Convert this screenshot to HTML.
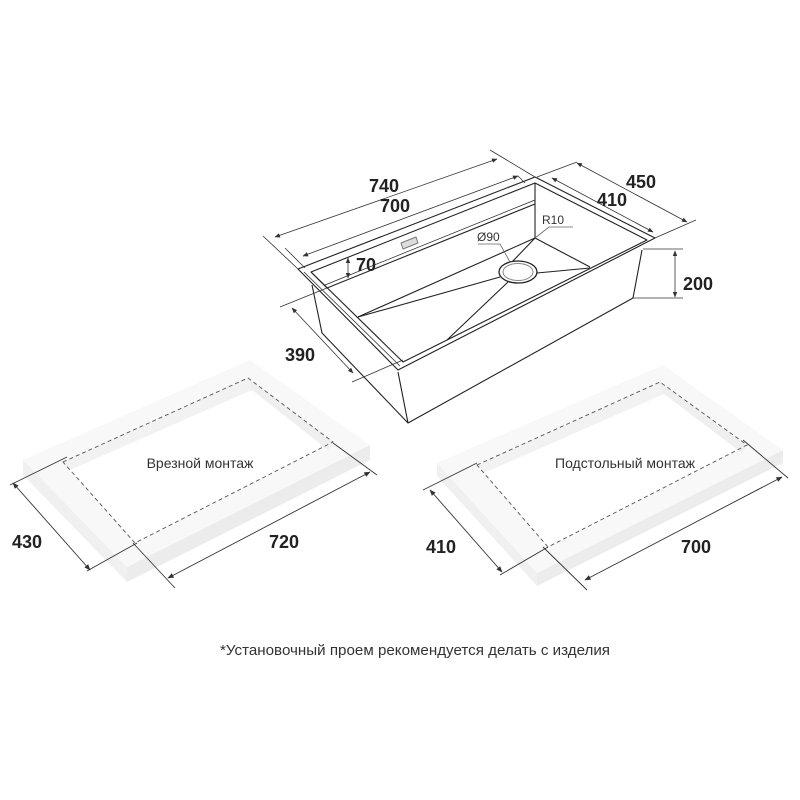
<!DOCTYPE html>
<html><head><meta charset="utf-8"><style>
html,body{margin:0;padding:0;background:#fff;}
svg{display:block;}
.d{font-family:"Liberation Sans",sans-serif;font-size:18px;font-weight:bold;fill:#222;}
.s{font-family:"Liberation Sans",sans-serif;fill:#333;}
</style></head><body>
<svg width="800" height="800" viewBox="0 0 800 800" xmlns="http://www.w3.org/2000/svg">
<defs>
<marker id="a" viewBox="0 0 10 10" refX="9" refY="5" markerWidth="7" markerHeight="7" orient="auto-start-reverse"><path d="M0,1 L10,5 L0,9 z" fill="#333"/></marker>
</defs>
<!-- Left slab -->
<g>
<polygon points="23,460 127,567 127,582 23,475" fill="#f0f0f0"/>
<polygon points="127,567 370,445 370,460 127,582" fill="#ececec"/>
<polygon points="23,460 250,360 370,445 127,567" fill="#f8f8f8"/>
<polygon points="63,462 248,378 333,442 135,543" fill="#fff"/>
<polygon points="63,462 248,378 252,390 70,470" fill="#f2f2f2"/>
<polygon points="248,378 333,442 328,450 252,390" fill="#efefef"/>
<polygon points="63,462 248,378 333,442 135,543" fill="none" stroke="#555" stroke-width="0.9" stroke-dasharray="4,3"/>
</g>
<!-- Right slab -->
<g>
<polygon points="437,463 537,573 537,586 437,476" fill="#f0f0f0"/>
<polygon points="537,573 783,450 783,463 537,586" fill="#ececec"/>
<polygon points="437,463 663,365 783,450 537,573" fill="#f8f8f8"/>
<polygon points="477,465 660,382 747,445 548,547" fill="#fff"/>
<polygon points="477,465 660,382 664,394 484,473" fill="#f2f2f2"/>
<polygon points="660,382 747,445 742,453 664,394" fill="#efefef"/>
<polygon points="477,465 660,382 747,445 548,547" fill="none" stroke="#555" stroke-width="0.9" stroke-dasharray="4,3"/>
</g>
<!-- slab dims -->
<g stroke="#333" stroke-width="0.9" fill="none">
<line x1="10" y1="485" x2="67" y2="457"/>
<line x1="87" y1="571" x2="137" y2="543"/>
<line x1="13" y1="483" x2="90" y2="570" marker-start="url(#a)" marker-end="url(#a)"/>
<line x1="133" y1="543" x2="175" y2="588"/>
<line x1="333" y1="443" x2="377" y2="475"/>
<line x1="168" y1="578" x2="370" y2="472" marker-start="url(#a)" marker-end="url(#a)"/>
<line x1="423" y1="490" x2="477" y2="463"/>
<line x1="500" y1="575" x2="548" y2="547"/>
<line x1="430" y1="490" x2="502" y2="572" marker-start="url(#a)" marker-end="url(#a)"/>
<line x1="543" y1="547" x2="587" y2="590"/>
<line x1="743" y1="440" x2="788" y2="478"/>
<line x1="585" y1="580" x2="782" y2="477" marker-start="url(#a)" marker-end="url(#a)"/>
</g>
<text class="d" x="12" y="548">430</text>
<text class="d" x="269" y="548">720</text>
<text class="d" x="426" y="553">410</text>
<text class="d" x="681" y="553">700</text>
<text class="s" x="200" y="468" font-size="14" text-anchor="middle">Врезной монтаж</text>
<text class="s" x="625" y="468" font-size="14" text-anchor="middle">Подстольный монтаж</text>
<!-- Sink -->
<g stroke="#222" stroke-width="1.1" fill="none" stroke-linejoin="round">
<polygon points="298,269 535,177 655,238 398,370" fill="#fff"/>
<polyline points="312,285 322,333 408,423 633,298 642,250"/>
<line x1="398" y1="372" x2="408" y2="423"/>
<polygon points="311,272 535,183 647,240 403,362"/>
<line x1="304" y1="272" x2="400" y2="366" stroke-width="0.7"/>
<line x1="327" y1="288" x2="535" y2="204"/>
<line x1="325" y1="285" x2="535" y2="200" stroke-width="0.7"/>
<line x1="311" y1="272" x2="327" y2="288"/>
<line x1="535" y1="183" x2="535" y2="238"/>
<line x1="358" y1="317" x2="535" y2="238"/>
<line x1="535" y1="238" x2="590" y2="267"/>
<line x1="358" y1="317" x2="500" y2="277"/>
<line x1="512" y1="262" x2="535" y2="238"/>
<line x1="537" y1="273" x2="590" y2="268"/>
<line x1="508" y1="282" x2="447" y2="340"/>
<ellipse cx="518" cy="272" rx="19" ry="11" fill="#fff" stroke-width="1.3"/>
<ellipse cx="518" cy="272" rx="15" ry="8.5" stroke="#888" stroke-width="1"/>
<polygon points="401,243 416,237 418,243 403,249" stroke="#777" stroke-width="1" fill="#ddd"/>
</g>
<!-- sink dims -->
<g stroke="#333" stroke-width="0.8" fill="none">
<line x1="263" y1="236" x2="298" y2="269"/>
<line x1="490" y1="150" x2="535" y2="177"/>
<line x1="275" y1="237" x2="497" y2="159" marker-start="url(#a)" marker-end="url(#a)"/>
<line x1="285" y1="248" x2="305" y2="268"/>
<line x1="518" y1="176" x2="525" y2="183"/>
<line x1="303" y1="256" x2="518" y2="176" marker-start="url(#a)" marker-end="url(#a)"/>
<line x1="348" y1="258" x2="348" y2="278" marker-start="url(#a)" marker-end="url(#a)"/>
<line x1="537" y1="177" x2="577" y2="162"/>
<line x1="577" y1="163" x2="687" y2="222" marker-start="url(#a)" marker-end="url(#a)"/>
<line x1="655" y1="238" x2="696" y2="220"/>
<line x1="552" y1="178" x2="653" y2="232" marker-start="url(#a)" marker-end="url(#a)"/>
<line x1="643" y1="249" x2="683" y2="249"/>
<line x1="632" y1="298" x2="683" y2="298"/>
<line x1="675" y1="251" x2="675" y2="297" marker-start="url(#a)" marker-end="url(#a)"/>
<line x1="280" y1="307" x2="327" y2="288"/>
<line x1="352" y1="382" x2="403" y2="360"/>
<line x1="292" y1="308" x2="353" y2="373" marker-start="url(#a)" marker-end="url(#a)"/>
<polyline points="535,238 549,227 573,227" stroke="#666"/>
<polyline points="478,244 500,244 510,262" stroke="#666"/>
</g>
<text class="d" x="369" y="192">740</text>
<text class="d" x="380" y="212">700</text>
<text class="d" x="356" y="271">70</text>
<text class="d" x="626" y="188">450</text>
<text class="d" x="597" y="206">410</text>
<text class="d" x="683" y="290">200</text>
<text class="d" x="285" y="361">390</text>
<text class="s" x="542" y="224" font-size="12">R10</text>
<text class="s" x="477" y="241" font-size="12">Ø90</text>
<text class="s" x="220" y="655" font-size="15" textLength="390" lengthAdjust="spacingAndGlyphs">*Установочный проем рекомендуется делать с изделия</text>
</svg>
</body></html>
